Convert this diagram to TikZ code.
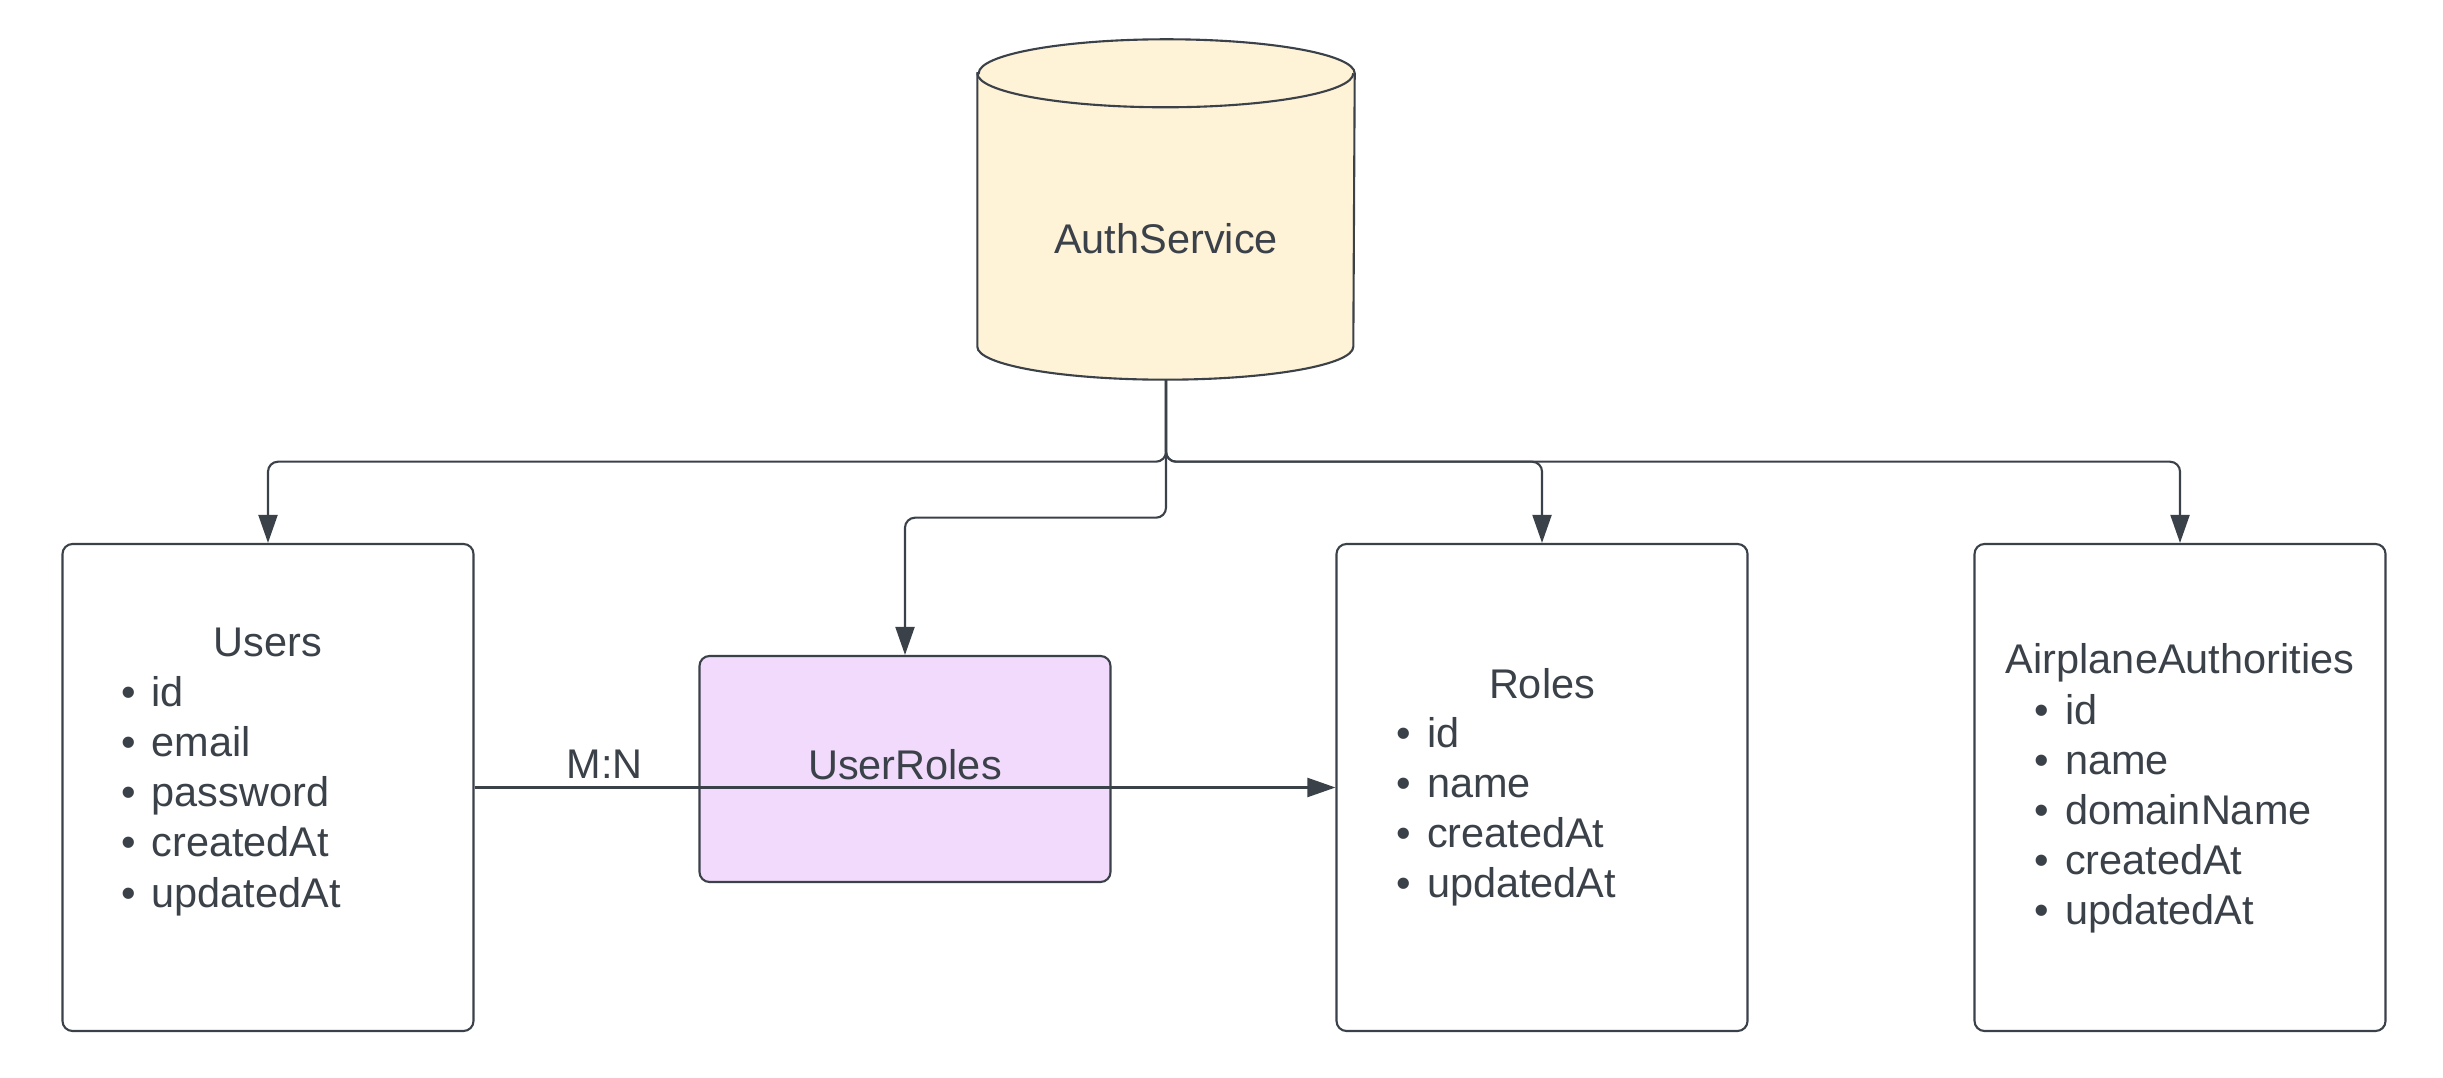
\documentclass[tikz,border=0pt]{standalone}
\usepackage{fontspec}
\setmainfont{Liberation Sans}
\usetikzlibrary{positioning,arrows.meta}
\definecolor{inkgray}{HTML}{3B4149}
\definecolor{dbyellow}{HTML}{FEF2D7}
\definecolor{linkpurple}{HTML}{F1DAFB}
\newcommand{\fielditem}[1]{\textbullet\hspace{0.38em}#1}
\tikzset{
  table box/.style={
    draw=inkgray, line width=0.6pt, rounded corners=0.1cm,
    minimum width=4.11cm, minimum height=4.87cm
  },
  link box/.style={
    table box, fill=linkpurple, minimum height=2.26cm, text depth=0.1cm
  },
  db body/.style={
    inner sep=0pt, minimum width=3.76cm, minimum height=3.39cm
  },
  db outline/.style={draw=inkgray, line width=0.6pt},
  table title/.style={anchor=base, inner sep=0pt},
  field list/.style={align=left, anchor=base west, inner sep=0pt},
  link arrow/.style={
    draw=inkgray, line width=0.6pt, rounded corners=0.1cm,
    -{Triangle[length=0.28cm,width=0.19cm]}
  }
}

\begin{document}
\begin{tikzpicture}[every node/.style={text=inkgray, font=\fontsize{11.8pt}{14.23pt}\selectfont}]
    \useasboundingbox (0,0) rectangle (24.43,-10.78);
    \node[db body] (auth) at (11.66,-2.095) {};
    \draw[db outline, fill=dbyellow] ([yshift=-0.34cm]auth.north west) -- ([yshift=0.33cm]auth.south west)
      arc[start angle=180, end angle=360, x radius=1.88cm, y radius=0.33cm]
      -- ([yshift=-0.34cm]auth.north east)
      arc[start angle=0, end angle=180, x radius=1.88cm, y radius=0.34cm] -- cycle;
    \draw[db outline] ([yshift=-0.34cm]auth.north west)
      arc[start angle=180, end angle=360, x radius=1.88cm, y radius=0.34cm];
    \node[table title] (auth title) at (11.66,-2.54) {AuthService};

    \node[table box] (users) at (2.68,-7.875) {};
    \node[link box] (userroles) at (9.05,-7.69) {UserRoles};
    \node[table box] (roles) at (15.42,-7.875) {};
    \node[table box] (airauth) at (21.80,-7.875) {};

    \node[table title] (users title) at (2.68,-6.57) {Users};
    \node[field list] (users fields) at (1.207,-9.07)
      {\fielditem{id}\\ \fielditem{email}\\ \fielditem{password}\\ \fielditem{createdAt}\\ \fielditem{updatedAt}};
    \node[table title] (roles title) at (15.42,-6.99) {Roles};
    \node[field list] (roles fields) at (13.96,-8.98)
      {\fielditem{id}\\ \fielditem{name}\\ \fielditem{createdAt}\\ \fielditem{updatedAt}};
    \node[table title] (airauth title) at (21.80,-6.74) {AirplaneAuthorities};
    \node[field list] (airauth fields) at (20.34,-9.245)
      {\fielditem{id}\\ \fielditem{name}\\ \fielditem{domainName}\\ \fielditem{createdAt}\\ \fielditem{updatedAt}};

    \draw[link arrow] (auth.south) -- ++(0,-0.82) -| (users.north);
    \draw[link arrow] (auth.south) -- ++(0,-1.38) -| (userroles.north);
    \draw[link arrow] (auth.south) -- ++(0,-0.82) -| (roles.north);
    \draw[link arrow] (auth.south) -- ++(0,-0.82) -| (airauth.north);
    \draw[link arrow] (users.east) -- node[pos=0.151, above=0.08cm, inner sep=0pt] (mn) {M:N} (roles.west);
\end{tikzpicture}
\end{document}
